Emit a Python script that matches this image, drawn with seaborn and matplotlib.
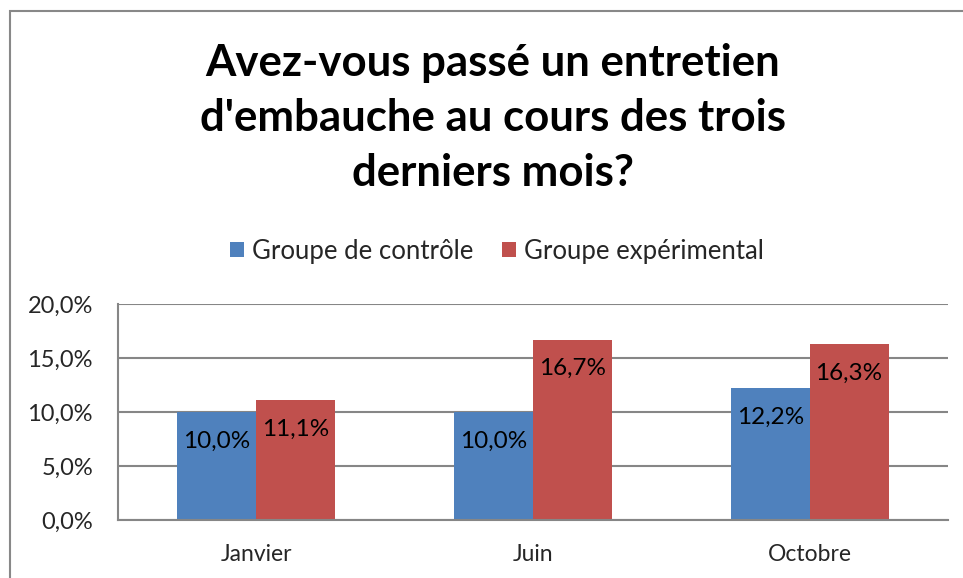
import numpy as np
import pandas as pd
import matplotlib
matplotlib.use("Agg")
import matplotlib.pyplot as plt
from matplotlib.patches import Rectangle, Patch
import seaborn as sns

# data
months = ["Janvier", "Juin", "Octobre"]
controle = [10.0, 10.0, 12.2]
experimental = [11.1, 16.7, 16.3]
groups = ["Groupe de contrôle", "Groupe expérimental"]
colors = ["#4F81BD", "#C0504D"]
yticks = [0, 5, 10, 15, 20]

df = pd.DataFrame({
    "mois": months * 2,
    "groupe": [groups[0]] * 3 + [groups[1]] * 3,
    "valeur": controle + experimental,
})

sns.set_style("white")
plt.rcParams["font.family"] = ["Lato", "DejaVu Sans"]

fig = plt.figure(figsize=(9.63, 5.78), dpi=100)
ax = fig.add_axes([118 / 963, 1 - 520 / 578, (948 - 118) / 963, (520 - 304) / 578])

sns.barplot(data=df, x="mois", y="valeur", hue="groupe", palette=colors,
            width=0.57, gap=0, saturation=1, ax=ax, legend=False,
            edgecolor="none")

# value labels inside the bars, near the top
for cont in ax.containers:
    texts = ax.bar_label(cont, labels=[f"{v:.1f}%".replace(".", ",") for v in cont.datavalues],
                         padding=-21, fontsize=17.5, color="black")
    for t in texts:
        t.set_va("center")

ax.set_ylim(0, 20)
ax.set_xlim(-0.5, 2.5)
ax.set_yticks(yticks)
ax.set_yticklabels([f"{v:.1f}%".replace(".", ",") for v in yticks], fontsize=17)
ax.set_xlabel("")
ax.set_ylabel("")
ax.tick_params(axis="x", which="major", length=0, labelsize=16.5, pad=17)
ax.set_xticks([-0.5, 0.5, 1.5, 2.5], minor=True)
ax.tick_params(axis="x", which="minor", length=7, width=1.5, color="#868686", direction="out")
ax.tick_params(axis="y", length=6, width=1.5, color="#868686", direction="out", pad=12)
ax.yaxis.grid(True, color="#868686", linewidth=1.5)
ax.set_axisbelow(True)
for side in ["top", "right"]:
    ax.spines[side].set_visible(False)
for side in ["left", "bottom"]:
    ax.spines[side].set_color("#868686")
    ax.spines[side].set_linewidth(1.5)

handles = [Patch(facecolor=c, edgecolor="none") for c in colors]
fig.legend(handles, groups, loc="center", bbox_to_anchor=(0.516, 1 - 251 / 578),
           ncol=2, frameon=False, fontsize=18.5, handlelength=0.55, handleheight=0.55,
           handletextpad=0.3, columnspacing=1.1)

fig.text(0.512, 1 - 43 / 578,
         "Avez-vous passé un entretien\nd'embauche au cours des trois\nderniers mois?",
         ha="center", va="top", fontsize=31.5, fontweight="bold", linespacing=1.46,
         color="black")

# outer chart frame
fig.patches.append(Rectangle((9.5 / 963, -0.2), 1.5, 1.2 - 10.5 / 578,
                             transform=fig.transFigure, fill=False,
                             edgecolor="#888888", linewidth=1.5))

fig.savefig("out.png", dpi=100, facecolor="white")
